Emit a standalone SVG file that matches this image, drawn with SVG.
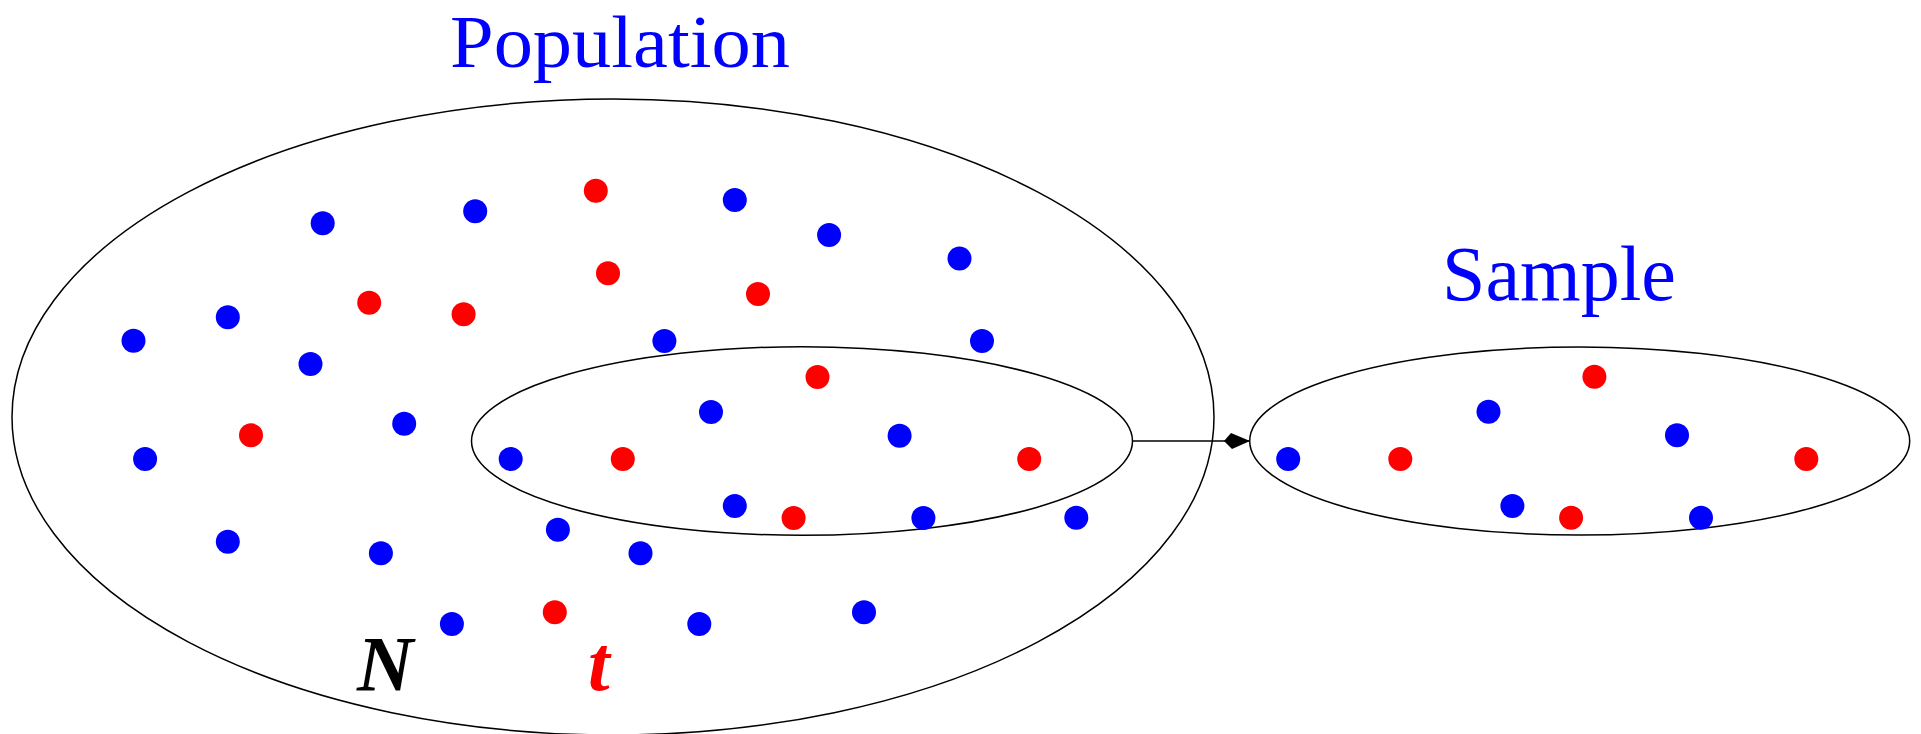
<svg xmlns="http://www.w3.org/2000/svg" width="1921" height="734" viewBox="0 0 1921 734">
<style>
.ring{fill:none;stroke:#000;stroke-width:1.5}
.b{fill:#0000ff}
.r{fill:#ff0000}
.lbl{font-family:"Liberation Serif","Times New Roman",serif;font-size:78px}
.title{fill:#0000ff}
.sym{font-style:italic;font-weight:bold}
</style>
<defs>
<marker id="head" markerUnits="userSpaceOnUse" viewBox="0 0 26 16" markerWidth="26" markerHeight="16" refX="26" refY="8" orient="auto">
<path d="M0,8 L7,0 L26,8 L8,16 Z" fill="#000"/>
</marker>
</defs>
<rect width="1921" height="734" fill="#fff"/>
<g id="population">
<ellipse class="ring" cx="613" cy="417" rx="601" ry="318"/>
<text class="lbl title" x="450" y="66.5" style="font-size:75px" textLength="340" lengthAdjust="spacingAndGlyphs">Population</text>
<text class="lbl sym" x="357" y="690" fill="#000">N</text>
<text class="lbl sym" x="588" y="690" fill="#ff0000">t</text>
<circle class="b" cx="322.7" cy="223.3" r="12"/>
<circle class="b" cx="475.2" cy="211.3" r="12"/>
<circle class="r" cx="595.8" cy="190.7" r="12"/>
<circle class="b" cx="734.8" cy="200" r="12"/>
<circle class="b" cx="829.1" cy="235" r="12"/>
<circle class="b" cx="959.5" cy="258.5" r="12"/>
<circle class="r" cx="608" cy="273.3" r="12"/>
<circle class="r" cx="758" cy="294" r="12"/>
<circle class="r" cx="369.2" cy="302.7" r="12"/>
<circle class="r" cx="463.6" cy="314.3" r="12"/>
<circle class="b" cx="227.8" cy="317.3" r="12"/>
<circle class="b" cx="133.5" cy="340.7" r="12"/>
<circle class="b" cx="664.4" cy="341" r="12"/>
<circle class="b" cx="310.5" cy="364" r="12"/>
<circle class="b" cx="982" cy="341" r="12"/>
<circle class="b" cx="404.2" cy="423.7" r="12"/>
<circle class="r" cx="251" cy="435.3" r="12"/>
<circle class="b" cx="145.1" cy="459" r="12"/>
<circle class="b" cx="557.9" cy="529.7" r="12"/>
<circle class="b" cx="227.8" cy="541.7" r="12"/>
<circle class="b" cx="380.9" cy="553.3" r="12"/>
<circle class="b" cx="640.5" cy="553.3" r="12"/>
<circle class="r" cx="554.8" cy="612.3" r="12"/>
<circle class="b" cx="451.9" cy="624" r="12"/>
<circle class="b" cx="699.3" cy="624" r="12"/>
<circle class="b" cx="864" cy="612.3" r="12"/>
</g>
<g id="subset">
<ellipse class="ring" cx="802" cy="441" rx="330.5" ry="94.3"/>
<circle class="r" cx="817.5" cy="377" r="12"/>
<circle class="b" cx="711" cy="412" r="12"/>
<circle class="b" cx="899.6" cy="435.7" r="12"/>
<circle class="b" cx="510.7" cy="459" r="12"/>
<circle class="r" cx="622.8" cy="459" r="12"/>
<circle class="r" cx="1029.2" cy="459" r="12"/>
<circle class="b" cx="734.8" cy="506" r="12"/>
<circle class="r" cx="793.6" cy="518" r="12"/>
<circle class="b" cx="923.4" cy="518" r="12"/>
<circle class="b" cx="1076.3" cy="517.7" r="12"/>
</g>
<g id="sample">
<ellipse class="ring" cx="1579.7" cy="441" rx="330" ry="94"/>
<text class="lbl title" x="1442" y="300">Sample</text>
<circle class="r" cx="1594.4" cy="376.7" r="12"/>
<circle class="b" cx="1488.5" cy="411.7" r="12"/>
<circle class="b" cx="1677" cy="435.3" r="12"/>
<circle class="b" cx="1288.2" cy="459" r="12"/>
<circle class="r" cx="1400.3" cy="459" r="12"/>
<circle class="r" cx="1806.3" cy="459" r="12"/>
<circle class="b" cx="1512.4" cy="506" r="12"/>
<circle class="r" cx="1571.1" cy="517.7" r="12"/>
<circle class="b" cx="1701" cy="517.7" r="12"/>
</g>
<g id="connectors">
<line x1="1132.5" y1="441" x2="1250" y2="441" stroke="#000" stroke-width="1.5" marker-end="url(#head)"/>
</g>
</svg>
